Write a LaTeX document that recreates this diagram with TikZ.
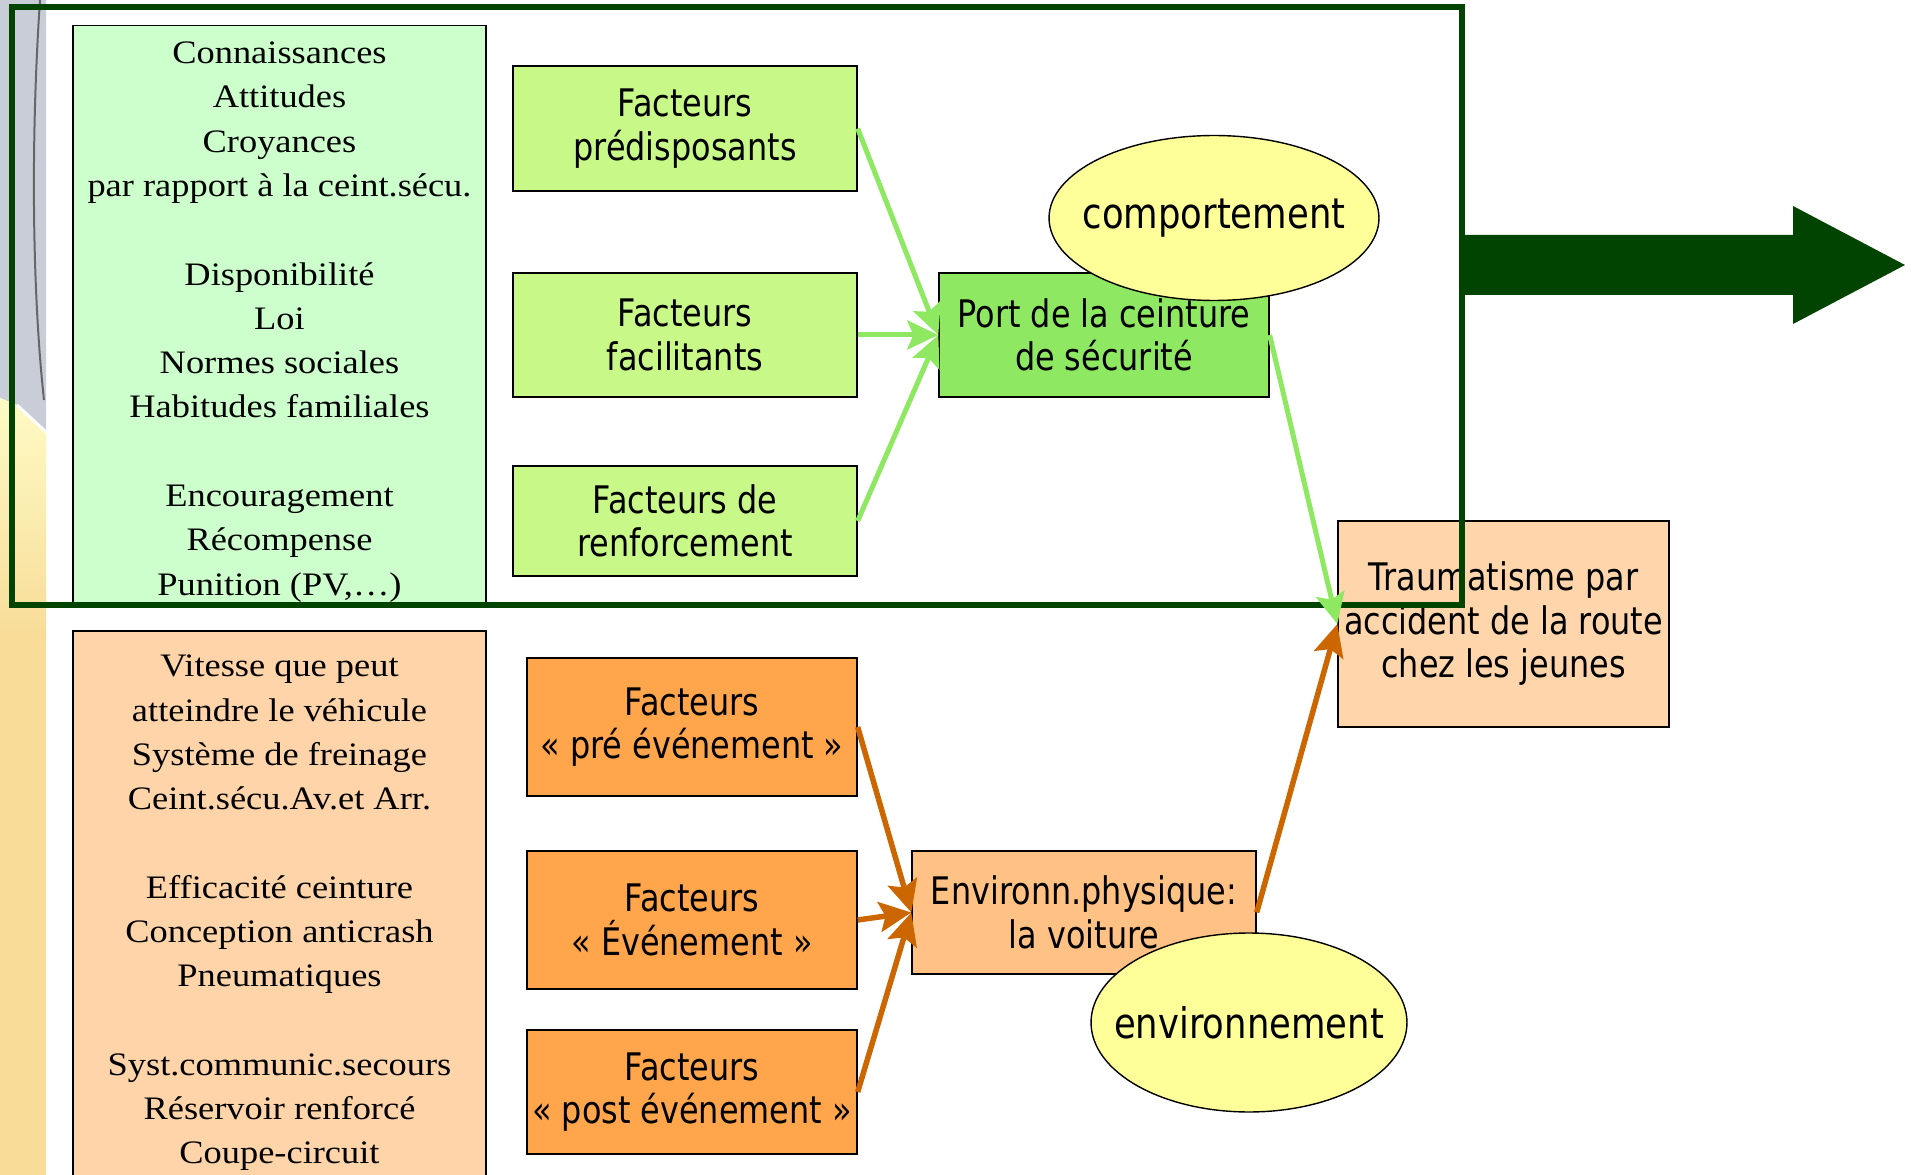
\documentclass[tikz,border=0pt]{standalone}
\usepackage{fontspec}
\usepackage{tikz}
\usetikzlibrary{arrows.meta,shapes.geometric}
\newfontfamily\boxfont[FakeStretch=0.84]{DejaVu Sans}
\newfontfamily\listfont[FakeStretch=1.11]{Liberation Serif}
\definecolor{cadre}{HTML}{004400}
\definecolor{vertpale}{HTML}{CCFFCC}
\definecolor{vertfact}{HTML}{C8F888}
\definecolor{vertport}{HTML}{8EE862}
\definecolor{orangepale}{HTML}{FFD4A8}
\definecolor{orangefact}{HTML}{FFA54C}
\definecolor{orangeenv}{HTML}{FFC184}
\definecolor{traumfond}{HTML}{FFD6AC}
\definecolor{jaune}{HTML}{FFFF99}
\definecolor{flecheor}{HTML}{CC6600}
\definecolor{fondgris}{HTML}{C9CDD8}
\definecolor{fondjaune}{HTML}{F8DC98}

\begin{document}
\begin{tikzpicture}[x=0.02cm,y=-0.02cm,
	boite/.style={draw=black,line width=0.8pt,inner sep=0pt,align=center,
		font=\boxfont\fontsize{21.6}{24.75}\selectfont},
	liste/.style={align=center,inner sep=0pt,font=\listfont\fontsize{18.66}{25.2}\selectfont},
	bulle/.style={ellipse,draw=black,line width=0.8pt,fill=jaune,inner sep=0pt,
		font=\boxfont\fontsize{24}{28}\selectfont},
	flvert/.style={vertport,line width=0.1cm,-{Stealth[length=0.62cm,width=0.58cm,inset=0.12cm]}},
	florange/.style={flecheor,line width=0.11cm,-{Stealth[length=0.64cm,width=0.6cm,inset=0.12cm]}}]
	\useasboundingbox (0,0) rectangle (1917,1175);
	% fond de la diapo a gauche
	\fill[fondgris] (0,0) -- (46,0) -- (46,432) -- (17,405) -- (0,398) -- cycle;
	\shade[top color=fondjaune!40!yellow!30!white,bottom color=fondjaune] (0,398) -- (17,405) -- (46,432) -- (46,640) -- (0,640) -- cycle;
	\fill[fondjaune] (0,640) rectangle (46,1175);
	\draw[white,line width=0.06cm] (17,405) -- (46,432);
	\draw[gray!80!black,line width=0.04cm] (40,0) .. controls (30,150) and (33,300) .. (44,400);
	% colonnes de gauche
	\node[draw=black,line width=0.8pt,fill=vertpale,minimum width=8.26cm,minimum height=11.54cm] (colvert) at (279.5,314) {};
	\node[liste] (txtvert) at (279.5,322) {Connaissances\\Attitudes\\Croyances\\par rapport à la ceint.sécu.\\[25.2pt]
		Disponibilité\\Loi\\Normes sociales\\Habitudes familiales\\[25.2pt]
		Encouragement\\Récompense\\Punition (PV,\dots)};
	\node[draw=black,line width=0.8pt,fill=orangepale,minimum width=8.26cm,minimum height=11.38cm] (colorange) at (279.5,915.5) {};
	\node[liste] (txtorange) at (279.5,913) {Vitesse que peut\\atteindre le véhicule\\Système de freinage\\Ceint.sécu.Av.et Arr.\\[25.2pt]
		Efficacité ceinture\\Conception anticrash\\Pneumatiques\\[25.2pt]
		Syst.communic.secours\\Réservoir renforcé\\Coupe-circuit};
	% facteurs
	\node[boite,fill=vertfact,minimum width=6.88cm,minimum height=2.5cm] (predis) at (685,128.5) {Facteurs\\prédisposants};
	\node[boite,fill=vertfact,minimum width=6.88cm,minimum height=2.48cm] (facil) at (685,335) {Facteurs\\facilitants};
	\node[boite,fill=vertfact,minimum width=6.88cm,minimum height=2.2cm] (renf) at (685,521) {Facteurs de\\renforcement};
	\node[boite,fill=vertport,minimum width=6.6cm,minimum height=2.48cm] (port) at (1104,335) {Port de la ceinture\\de sécurité};
	\node[boite,fill=orangefact,minimum width=6.6cm,minimum height=2.76cm] (preevt) at (692,727) {Facteurs\\«~pré événement~»};
	\node[boite,fill=orangefact,minimum width=6.6cm,minimum height=2.76cm] (evt) at (692,920) {Facteurs\\«~Événement~»};
	\node[boite,fill=orangefact,minimum width=6.6cm,minimum height=2.48cm] (postevt) at (692,1092) {Facteurs\\«~post événement~»};
	\node[boite,fill=orangeenv,minimum width=6.88cm,minimum height=2.46cm] (voiture) at (1084,912.5) {Environn.physique:\\la voiture};
	\node[boite,fill=traumfond,minimum width=6.62cm,minimum height=4.12cm] (trauma) at (1503.5,624) {Traumatisme par\\accident de la route\\chez les jeunes};
	\node[bulle,minimum width=6.6cm,minimum height=3.3cm] (comport) at (1214,218) {\makebox[0pt]{comportement}};
	\node[bulle,minimum width=6.32cm,minimum height=3.58cm] (environ) at (1249,1022.5) {\makebox[0pt]{environnement}};
	% cadre et grosse fleche
	\draw[cadre,line width=0.12cm] (12,7) rectangle (1462,605);
	\fill[cadre] (1462,235) -- (1793,235) -- (1793,206) -- (1905,265) -- (1793,324) -- (1793,295) -- (1462,295) -- cycle;
	% fleches
	\draw[flvert] (predis.east) -- (port.west);
	\draw[flvert] (facil.east) -- (port.west);
	\draw[flvert] (renf.east) -- (port.west);
	\draw[flvert] (port.east) -- (trauma.west);
	\draw[florange] (preevt.east) -- (voiture.west);
	\draw[florange] (evt.east) -- (voiture.west);
	\draw[florange] (postevt.east) -- (voiture.west);
	\draw[florange] (voiture.east) -- (trauma.west);
\end{tikzpicture}
\end{document}
